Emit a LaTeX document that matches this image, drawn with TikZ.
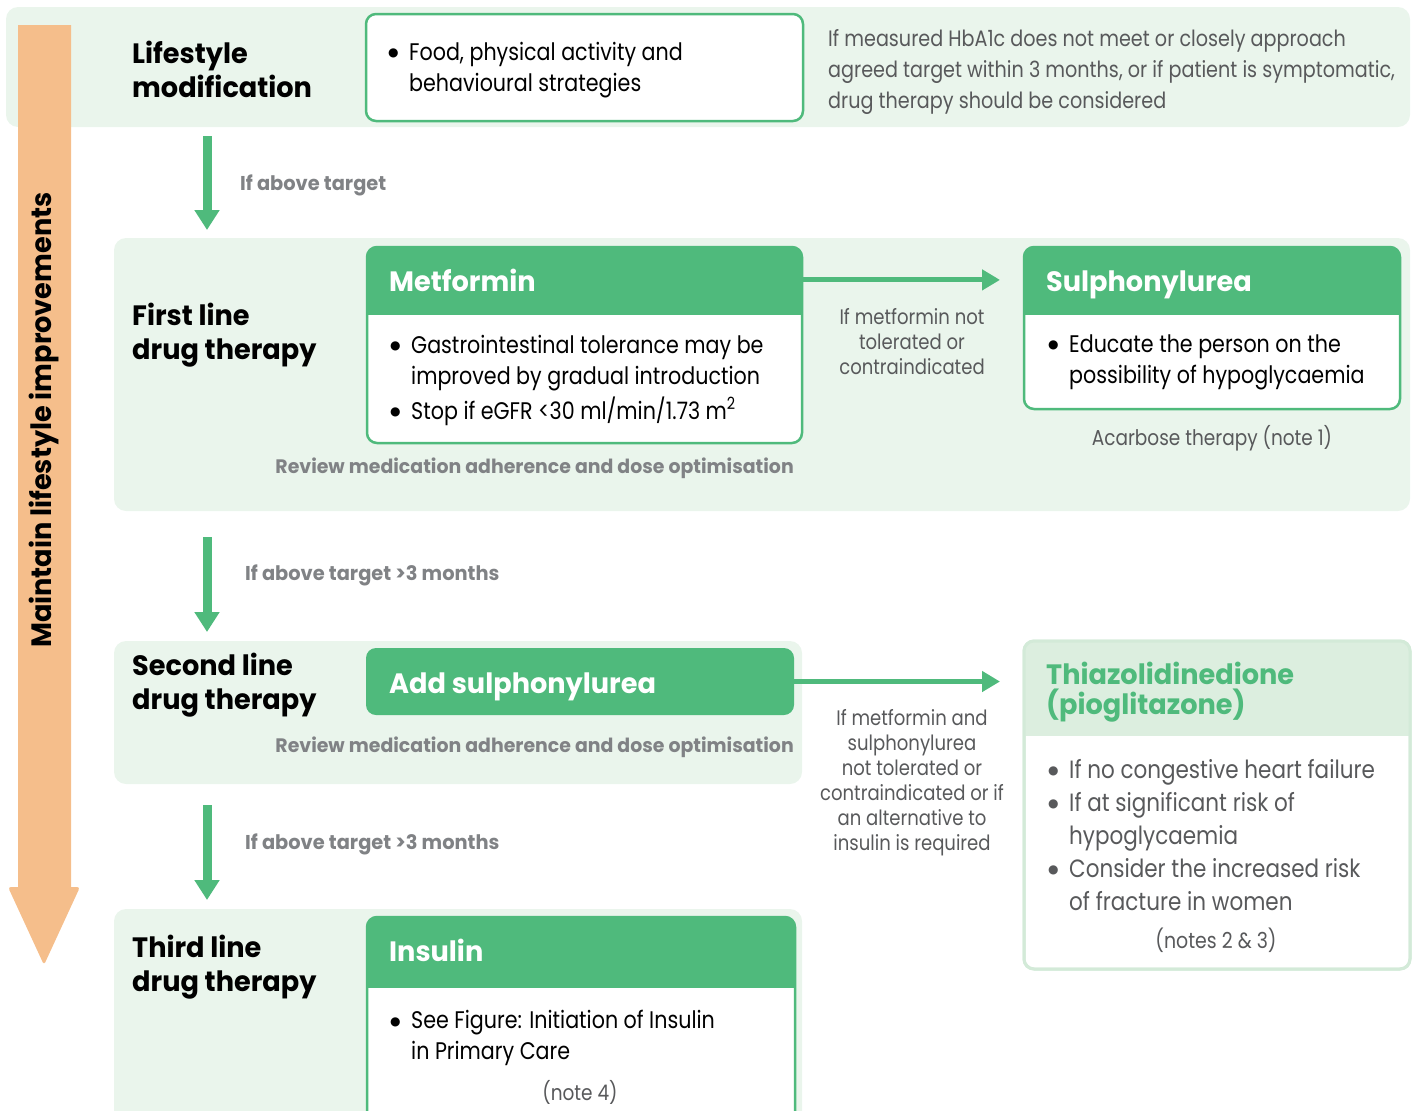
\documentclass[tikz,border=0pt]{standalone}
\usepackage{fontspec}
\setmainfont{Poppins}[FakeStretch=0.86, BoldFeatures={FakeStretch=0.97}]
\newfontfamily\dvfont{DejaVu Sans}
\usetikzlibrary{arrows.meta}
\definecolor{gc}{HTML}{4FBA7C}
\definecolor{bandc}{HTML}{EAF5EC}
\definecolor{tzdh}{HTML}{DCEEDF}
\definecolor{tzdb}{HTML}{D3EAD8}
\definecolor{orng}{HTML}{F5BE8B}
\definecolor{lbl}{HTML}{808285}
\definecolor{txtg}{HTML}{58595B}
\newcommand{\fs}[2]{\fontsize{#1}{#2}\selectfont}
\newcommand{\bl}{\makebox[21pt][l]{\raisebox{3.5pt}{\dvfont\fontsize{12}{12}\selectfont ●}}}
\newcommand{\ind}{\hspace*{21pt}}
\tikzset{
  band/.style={fill=bandc, rounded corners=12pt, anchor=north west, inner sep=0pt, outer sep=0pt},
  obox/.style={draw=gc, line width=2.5pt, fill=white, rounded corners=10pt, anchor=north west, inner sep=0pt, outer sep=0pt},
  tbox/.style={draw=tzdb, line width=3pt, fill=white, rounded corners=10pt, anchor=north west, inner sep=0pt, outer sep=0pt},
  gbox/.style={fill=gc, rounded corners=10pt, anchor=north west, inner sep=0pt, outer sep=0pt},
  hd/.style={font=\bfseries\fs{28}{34}, align=left, inner sep=0pt, anchor=west},
  body/.style={font=\fs{24}{31}, align=left, inner sep=0pt, anchor=west},
  gtxt/.style={font=\fs{22.3}{31}, text=txtg, align=left, inner sep=0pt, anchor=west},
  lb/.style={font=\bfseries\fs{20}{24}, text=lbl, inner sep=0pt},
  sl/.style={font=\fs{21}{25}, text=txtg, align=center, inner sep=0pt},
  ttl/.style={font=\bfseries\fs{28}{30}, text=white, inner sep=0pt, anchor=base west},
  varrow/.style={draw=gc, line width=9pt, -{Triangle[width=24pt,length=20pt]}},
  harrow/.style={draw=gc, line width=5pt, -{Triangle[width=20pt,length=18pt]}, shorten >=24pt},
}
\begin{document}
\begin{tikzpicture}[x=1pt, y=-1pt]
\useasboundingbox (0,0) rectangle (1419,1111);
% bands
\node[band, minimum width=1404pt, minimum height=120pt] (b1) at (6,7) {};
\node[band, minimum width=1296pt, minimum height=273pt] (b2) at (114,238) {};
\node[band, minimum width=688pt, minimum height=143pt] (b3) at (114,641) {};
\node[band, minimum width=688pt, minimum height=225pt] (b4) at (114,909) {};
% orange arrow
\fill[orng] (18,25) -- (71,25) -- (71,887) [rounded corners=3pt] -- (80,887) -- (44,965) -- (8,887) [sharp corners] -- (18,887) -- cycle;
\node[rotate=90, font=\bfseries\fs{28}{30}, inner sep=0pt] (mli) at (44,420) {Maintain lifestyle improvements};
% row 1
\node[hd] (lm) at (132,69) {Lifestyle\\modification};
\node[obox, minimum width=437pt, minimum height=107pt] (food) at (366,14) {};
\node[body] (foodt) at (388,70) {\bl Food, physical activity and\\\ind behavioural strategies};
\node[gtxt] (hba) at (828,72) {If measured HbA1c does not meet or closely approach\\agreed target within 3 months, or if patient is symptomatic,\\drug therapy should be considered};
\coordinate (ax) at (207,0);
\draw[varrow, shorten <=9pt, shorten >=8pt] (b1.south -| ax) -- (b2.north -| ax);
\node[lb, anchor=west] (l1) at (240,185) {If above target};
% row 2
\node[hd] (fl) at (132,335) {First line\\drug therapy};
\node[obox, minimum width=435pt, minimum height=196pt] (met) at (367,247) {};
\begin{scope}
\clip[rounded corners=10pt] (met.north west) rectangle (met.south east);
\fill[gc] (met.north west) rectangle ([yshift=-68pt]met.north east);
\end{scope}
\node[ttl] (mett) at (389,291) {Metformin};
\node[body] (metb) at (390,380) {\bl Gastrointestinal tolerance may be\\\ind improved by gradual introduction\\[4pt]\bl Stop if eGFR <30 ml/min/1.73 m\textsuperscript{2}};
\node[lb, anchor=east, font=\bfseries\fs{19.5}{24}] (rv1) at (794,468) {Review medication adherence and dose optimisation};
\node[obox, minimum width=376pt, minimum height=162pt] (sul) at (1024,247) {};
\begin{scope}
\clip[rounded corners=10pt] (sul.north west) rectangle (sul.south east);
\fill[gc] (sul.north west) rectangle ([yshift=-68pt]sul.north east);
\end{scope}
\node[ttl] (sult) at (1046,291) {Sulphonylurea};
\node[body] (sulb) at (1048,362) {\bl Educate the person on the\\\ind possibility of hypoglycaemia};
\node[sl, font=\fs{21.5}{25}] (acb) at (1212,438) {Acarbose therapy (note 1)};
\draw[harrow] (mett -| met.east) -- (mett -| sul.west);
\node[sl] (l2) at (912,342) {If metformin not\\tolerated or\\contraindicated};
\draw[varrow, shorten <=26pt, shorten >=9pt] (b2.south -| ax) -- (b3.north -| ax);
\node[lb, anchor=west] (l3) at (245,575) {If above target >3 months};
% row 3
\node[hd] (sl2) at (132,685) {Second line\\drug therapy};
\node[gbox, minimum width=428pt, minimum height=67pt] (add) at (366,648) {};
\node[ttl] (addt) at (389,693) {Add sulphonylurea};
\node[lb, anchor=east, font=\bfseries\fs{19.5}{24}] (rv2) at (794,747) {Review medication adherence and dose optimisation};
\node[tbox, minimum width=386pt, minimum height=328pt] (tzd) at (1024,641) {};
\begin{scope}
\clip[rounded corners=10pt] (tzd.north west) rectangle (tzd.south east);
\fill[tzdh] (tzd.north west) rectangle ([yshift=-95pt]tzd.north east);
\end{scope}
\draw[tzdb, line width=3pt, rounded corners=10pt] (tzd.north west) rectangle (tzd.south east);
\node[hd, text=gc, font=\bfseries\fs{28}{30}] (tzdt) at (1046,692) {Thiazolidinedione\\(pioglitazone)};
\node[body, text=txtg, font=\fs{25}{33}] (tzdb) at (1048,835) {\bl If no congestive heart failure\\\bl If at significant risk of\\\ind hypoglycaemia\\\bl Consider the increased risk\\\ind of fracture in women};
\node[sl, font=\fs{22}{25}] (n23) at (1216,940) {(notes 2 \& 3)};
\draw[harrow] (add.east) -- (add.east -| tzd.west);
\node[sl] (l4) at (912,783) {If metformin and\\sulphonylurea\\not tolerated or\\contraindicated or if\\an alternative to\\insulin is required};
\draw[varrow, shorten <=21pt, shorten >=9pt] (b3.south -| ax) -- (b4.north -| ax);
\node[lb, anchor=west] (l5) at (245,844) {If above target >3 months};
% row 4
\node[hd] (tl) at (132,967) {Third line\\drug therapy};
\node[obox, minimum width=428pt, minimum height=215pt] (ins) at (367,917) {};
\begin{scope}
\clip[rounded corners=10pt] (ins.north west) rectangle (ins.south east);
\fill[gc] (ins.north west) rectangle ([yshift=-71pt]ins.north east);
\end{scope}
\node[ttl] (inst) at (389,961) {Insulin};
\node[body] (insb) at (390,1038) {\bl See Figure: Initiation of Insulin\\\ind in Primary Care};
\node[sl, font=\fs{21.5}{25}] (n4) at (580,1092) {(note 4)};
\end{tikzpicture}
\end{document}
